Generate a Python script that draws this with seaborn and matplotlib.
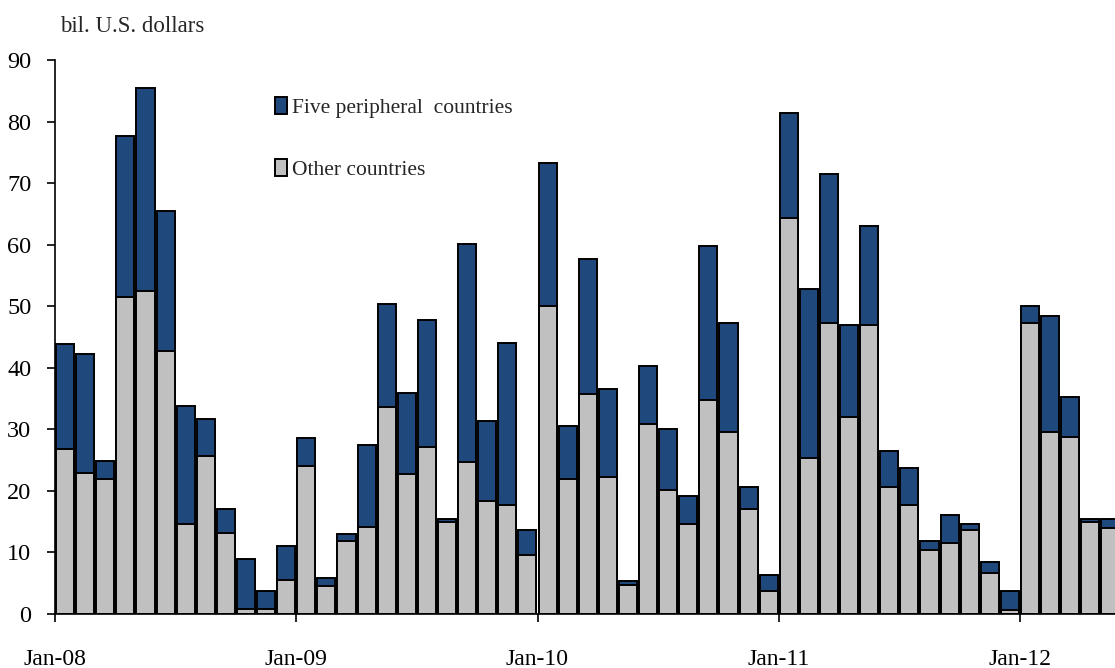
import matplotlib
matplotlib.use("Agg")
import matplotlib.pyplot as plt
import matplotlib.transforms as mtransforms
import numpy as np
import pandas as pd
import seaborn as sns

# ---- data (bil. U.S. dollars), monthly Jan-2008 .. May-2012 ----
months = [d.strftime("%b-%y") for d in pd.date_range("2008-01-01", periods=53, freq="MS")]

# top of stacked bar (total issuance)
total = [43.9, 42.2, 24.8, 77.6, 85.5, 65.5, 33.8, 31.7, 17.0, 9.0, 3.8, 11.1,
         28.6, 5.9, 13.0, 27.4, 50.4, 35.9, 47.7, 15.4, 60.1, 31.3, 44.1, 13.6,
         73.3, 30.6, 57.7, 36.5, 5.4, 40.3, 30.0, 19.1, 59.8, 47.3, 20.6, 6.3,
         81.4, 52.8, 71.4, 46.9, 63.0, 26.5, 23.7, 11.8, 16.1, 14.7, 8.4, 3.8,
         50.1, 48.4, 35.2, 15.4, 15.4]
# other countries (lower segment)
other = [26.8, 22.9, 21.9, 51.5, 52.5, 42.7, 14.6, 25.7, 13.2, 0.8, 0.8, 5.6,
         24.0, 4.5, 11.8, 14.2, 33.7, 22.7, 27.1, 14.9, 24.7, 18.4, 17.7, 9.6,
         50.0, 21.9, 35.8, 22.2, 4.7, 30.9, 20.2, 14.6, 34.7, 29.5, 17.0, 3.7,
         64.3, 25.4, 47.3, 32.0, 46.9, 20.6, 17.7, 10.4, 11.5, 13.6, 6.6, 0.7,
         47.3, 29.5, 28.8, 14.9, 13.9]
peripheral = [t - o for t, o in zip(total, other)]

series_names = ["Five peripheral  countries", "Other countries"]
tick_labels = ["Jan-08", "Jan-09", "Jan-10", "Jan-11", "Jan-12"]
y_ticks = list(range(0, 91, 10))

df = pd.DataFrame({"month": months, "other": other,
                   "top": [o + p for o, p in zip(other, peripheral)]})

BLUE = "#1f497d"
GREY = "#c0c0c0"

sns.set_style("white")
plt.rcParams["font.family"] = ["Liberation Serif", "DejaVu Serif"]

fig = plt.figure(figsize=(11.15, 6.68), dpi=100)
ax = fig.add_axes([55 / 1115, 1 - 614 / 668, 1 - 55 / 1115, (614 - 60) / 668])

sns.barplot(data=df, x="month", y="top", order=months, color=BLUE, width=0.9,
            edgecolor="black", linewidth=1.4, saturation=1, ax=ax,
            label=series_names[0])
sns.barplot(data=df, x="month", y="other", order=months, color=GREY, width=0.9,
            edgecolor="black", linewidth=1.4, saturation=1, ax=ax,
            label=series_names[1])

ax.set_xlim(-0.5, -0.5 + (1115 - 55) / ((1020 - 55) / 48))
ax.set_ylim(0, 90)
ax.set_yticks(y_ticks)
ax.set_yticklabels([str(v) for v in y_ticks], fontsize=17.5)
ax.set_xticks([-0.5 + 12 * k for k in range(len(tick_labels))])
ax.set_xticklabels(tick_labels, fontsize=17)
offset = mtransforms.ScaledTranslation(7 / 100, 0, fig.dpi_scale_trans)
for lab in ax.get_xticklabels():
    lab.set_transform(lab.get_transform() + offset)

ax.set_xlabel("")
ax.set_ylabel("")
for s in ["top", "right"]:
    ax.spines[s].set_visible(False)
for s in ["left", "bottom"]:
    ax.spines[s].set_color("black")
    ax.spines[s].set_linewidth(1.2)
    ax.spines[s].set_zorder(5)
ax.tick_params(axis="both", direction="out", length=6, width=1.2, color="black",
               labelcolor="black")
ax.tick_params(axis="y", pad=11, left=True)
ax.tick_params(axis="x", pad=19, bottom=True)
ax.grid(False)

fig.text(60 / 1115, 1 - 27 / 668, "bil. U.S. dollars", fontsize=16.5,
         ha="left", va="center")

leg = ax.legend(loc="upper left", bbox_to_anchor=(0.1995, 0.949), frameon=False,
                fontsize=15.5, handlelength=0.55, handleheight=0.85,
                handletextpad=0.25, labelspacing=1.9, borderaxespad=0)

fig.savefig("out.png", dpi=100)
